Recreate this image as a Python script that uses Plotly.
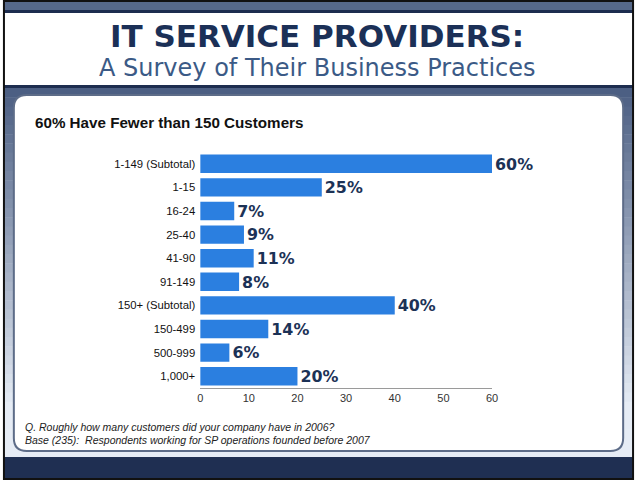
import plotly.graph_objects as go

categories = ["1-149 (Subtotal)", "1-15", "16-24", "25-40", "41-90", "91-149",
              "150+ (Subtotal)", "150-499", "500-999", "1,000+"]
values = [60, 25, 7, 9, 11, 8, 40, 14, 6, 20]
value_labels = [f"{v}%" for v in values]
x_ticks = [0, 10, 20, 30, 40, 50, 60]

W, H = 640, 480

def px(x):
    return x / W

def py(y):
    return 1 - y / H

def lerp_color(c1, c2, t):
    a = [int(c1[i:i + 2], 16) for i in (1, 3, 5)]
    b = [int(c2[i:i + 2], 16) for i in (1, 3, 5)]
    return "#" + "".join(f"{round(a[k] + (b[k] - a[k]) * t):02x}" for k in range(3))

shapes = []
# gradient background behind panel
n = 40
y0, y1 = 88, 457
for i in range(n):
    ya = y0 + (y1 - y0) * i / n
    yb = y0 + (y1 - y0) * (i + 1) / n + 0.5
    t = min(1.0, i / (n * 0.85))
    col = lerp_color("#4c5f83", "#e6ecf5", t)
    shapes.append(dict(type="rect", xref="paper", yref="paper", x0=0, x1=1,
                       y0=py(yb), y1=py(ya), fillcolor=col, line_width=0, layer="below"))
# top stripe
shapes.append(dict(type="rect", xref="paper", yref="paper", x0=0, x1=1, y0=py(10), y1=1,
                   fillcolor="#56698a", line_width=0, layer="below"))
shapes.append(dict(type="rect", xref="paper", yref="paper", x0=0, x1=1, y0=py(13), y1=py(10),
                   fillcolor="#1d2d4f", line_width=0, layer="below"))
shapes.append(dict(type="rect", xref="paper", yref="paper", x0=0, x1=1, y0=py(85), y1=py(13),
                   fillcolor="#ffffff", line_width=0, layer="below"))
shapes.append(dict(type="rect", xref="paper", yref="paper", x0=0, x1=1, y0=py(88), y1=py(85),
                   fillcolor="#1d2d4f", line_width=0, layer="below"))
# bottom band
shapes.append(dict(type="rect", xref="paper", yref="paper", x0=0, x1=1, y0=0, y1=py(457),
                   fillcolor="#1f2f52", line_width=0, layer="below"))

# rounded white panel
L, R, T, B, r = 11, 629, 95, 451, 13
def pt(x, y):
    return f"{px(x):.5f},{py(y):.5f}"
path = (f"M {pt(L + r, T)} L {pt(R - r, T)} Q {pt(R, T)} {pt(R, T + r)} "
        f"L {pt(R, B - r)} Q {pt(R, B)} {pt(R - r, B)} "
        f"L {pt(L + r, B)} Q {pt(L, B)} {pt(L, B - r)} "
        f"L {pt(L, T + r)} Q {pt(L, T)} {pt(L + r, T)} Z")
shapes.append(dict(type="path", xref="paper", yref="paper", path=path,
                   fillcolor="#ffffff", line=dict(color="#5d6c88", width=2), layer="below"))
# outer frame
shapes.append(dict(type="rect", xref="paper", yref="paper", x0=0.0015, x1=0.9985, y0=0.002, y1=0.998,
                   line=dict(color="#111111", width=2), fillcolor="rgba(0,0,0,0)"))

fig = go.Figure(go.Bar(
    x=values, y=categories, orientation="h",
    marker=dict(color="#2b7fe0", line=dict(width=0)),
    width=0.78,
    text=value_labels, textposition="outside",
    textfont=dict(family="DejaVu Sans", size=19, color="#1c3256", weight="bold"),
    cliponaxis=False,
))

def ann(text, x, y, size, color, xanchor="center", family="Liberation Sans"):
    return dict(text=text, x=px(x), y=py(y), xref="paper", yref="paper",
                xanchor=xanchor, yanchor="middle", showarrow=False,
                font=dict(family=family, size=size, color=color))

annotations = [
    ann("<b>IT SERVICE PROVIDERS:</b>", 318, 36, 31, "#1b3057", family="DejaVu Sans"),
    ann("A Survey of Their Business Practices", 319, 68, 24, "#3b5a86", family="DejaVu Sans"),
    ann("<b>60% Have Fewer than 150 Customers</b>", 30, 123, 15.2, "#111111", xanchor="left"),
    ann("<i>Q. Roughly how many customers did your company have in 2006?</i>", 20, 427, 10.5,
        "#222222", xanchor="left"),
    ann("<i>Base (235):  Respondents working for SP operations founded before 2007</i>", 20, 440, 10.5,
        "#222222", xanchor="left"),
]

fig.update_layout(
    width=W, height=H, margin=dict(l=0, r=0, t=0, b=0),
    paper_bgcolor="#ffffff", plot_bgcolor="rgba(0,0,0,0)",
    shapes=shapes, annotations=annotations, showlegend=False,
    xaxis=dict(domain=[px(200), px(496)], range=[0, 60], tickvals=x_ticks,
               showgrid=False, zeroline=False, showline=True, linecolor="#9a9a9a", linewidth=1,
               ticks="", tickfont=dict(family="Liberation Sans", size=11, color="#333333"),
               anchor="y", fixedrange=True),
    yaxis=dict(domain=[py(388), py(152)], autorange="reversed", showgrid=False, zeroline=False,
               showline=False, ticks="", ticklabelstandoff=4,
               tickfont=dict(family="Liberation Sans", size=11.3, color="#111111"), fixedrange=True),
)

fig.write_html("out.html")
